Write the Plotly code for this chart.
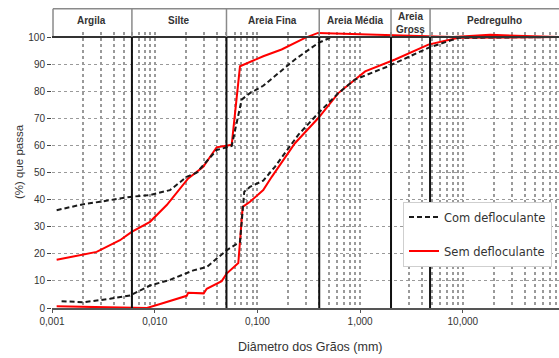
import numpy as np
import plotly.graph_objects as go

# ---------------- data ----------------
# Upper pair of curves
com_a_d = [0.00111, 0.00202, 0.00293, 0.00575, 0.0090, 0.0141, 0.0205, 0.0256, 0.0401, 0.0562,
           0.0703, 0.0847, 0.114, 0.148, 0.232, 0.392, 0.529, 1.0, 10.0, 86.0]
com_a_p = [36.1, 38.3, 39.2, 41.0, 41.7, 43.5, 48.4, 49.9, 58.3, 59.8,
           76.9, 79.3, 82.0, 85.5, 91.7, 97.8, 100.0, 100.0, 100.0, 100.0]

sem_a_d = [0.00111, 0.00272, 0.00459, 0.00597, 0.0090, 0.0131, 0.0212, 0.0297, 0.0401, 0.0562,
           0.0677, 0.114, 0.172, 0.291, 0.39, 2.0, 8.0, 18.4, 86.0]
sem_a_p = [17.8, 20.7, 25.0, 28.1, 31.8, 38.0, 47.8, 52.1, 59.3, 60.2,
           89.2, 92.9, 95.4, 99.7, 101.5, 100.7, 100.0, 100.8, 100.0]

# Lower pair of curves
com_b_d = [0.00124, 0.00202, 0.00367, 0.00575, 0.0090, 0.0141, 0.0238, 0.0321, 0.0502, 0.0677,
           0.0745, 0.0847, 0.114, 0.148, 0.250, 0.392, 0.614, 0.891, 1.88, 4.62, 9.04, 86.0]
com_b_p = [2.5, 2.1, 3.4, 4.6, 8.3, 10.4, 13.9, 15.1, 21.3, 24.4,
           42.9, 44.7, 47.0, 52.1, 63.9, 71.9, 79.3, 84.3, 89.2, 96.0, 99.7, 100.0]

sem_b_d = [0.00111, 0.002, 0.0058, 0.0084, 0.0113, 0.0164, 0.0205, 0.0212, 0.030, 0.0321,
           0.0449, 0.0502, 0.0652, 0.0719, 0.0847, 0.114, 0.138, 0.232, 0.392, 0.614,
           1.12, 2.19, 4.62, 9.04, 86.0]
sem_b_p = [0.6, 0.5, 0.1, 0.0, 1.5, 3.4, 4.5, 5.6, 5.4, 7.1,
           9.9, 12.7, 16.6, 37.3, 39.2, 43.5, 48.4, 60.8, 70.1, 79.3,
           87.3, 91.7, 97.2, 99.7, 100.0]

# Soil classes (boundaries in mm) and header labels
class_bounds = [0.006, 0.05, 0.4, 2.0, 4.8]
class_names = ["Argila", "Silte", "Areia Fina", "Areia Média", "Areia<br>Gross", "Pedregulho"]

x_min, x_max = 0.001, 86.5
y_tickvals = list(range(0, 101, 10))
x_tickvals = [0.001, 0.01, 0.1, 1, 10]
x_ticktext = ["0,001", "0,010", "0,100", "1,000", "10,000"]

# ---------------- figure ----------------
W, H = 559, 358
ML, MR, MT, MB = 52, 0, 8, 50
YTOP = 110.7          # axis top (header band lives above 100)
HDR_TOP = 110.4

fig = go.Figure()

red = dict(color="#ff0000", width=2)
blk = dict(color="#1a1a1a", width=2, dash="5px,3px")

fig.add_trace(go.Scatter(x=sem_a_d, y=sem_a_p, mode="lines", line=red,
                         name="Sem defloculante", legendgroup="sem", legendrank=2))
fig.add_trace(go.Scatter(x=sem_b_d, y=sem_b_p, mode="lines", line=red,
                         name="Sem defloculante", legendgroup="sem", showlegend=False))
fig.add_trace(go.Scatter(x=com_a_d, y=com_a_p, mode="lines", line=blk,
                         name="Com defloculante", legendgroup="com", legendrank=1))
fig.add_trace(go.Scatter(x=com_b_d, y=com_b_p, mode="lines", line=blk,
                         name="Com defloculante", legendgroup="com", showlegend=False))

shapes = []
# white header band (hides the grid above the curves' overshoot)
shapes.append(dict(type="rect", xref="paper", yref="y", x0=0, x1=1, y0=102.0, y1=YTOP,
                   fillcolor="white", line=dict(width=0), layer="above"))
# header top and left border
shapes.append(dict(type="line", xref="paper", yref="y", x0=0.002, x1=1, y0=HDR_TOP, y1=HDR_TOP,
                   line=dict(color="#8a8a8a", width=1.5)))
shapes.append(dict(type="line", xref="paper", yref="y", x0=0.002, x1=0.002, y0=100, y1=HDR_TOP,
                   line=dict(color="#8a8a8a", width=1.5)))
# 100% line / header bottom
shapes.append(dict(type="line", xref="paper", yref="y", x0=0, x1=1, y0=100, y1=100,
                   line=dict(color="#333333", width=2)))
for b in class_bounds:
    shapes.append(dict(type="line", xref="x", yref="y", x0=b, x1=b, y0=0, y1=100,
                       line=dict(color="#111111", width=2)))
    shapes.append(dict(type="line", xref="x", yref="y", x0=b, x1=b, y0=100, y1=HDR_TOP,
                       line=dict(color="#8a8a8a", width=1.5)))

annotations = []
edges = [x_min] + class_bounds + [x_max]
for i, name in enumerate(class_names):
    xc = (np.log10(edges[i]) + np.log10(edges[i + 1])) / 2
    two = "<br>" in name
    annotations.append(dict(x=xc, y=105.3 if two else 106.0, xref="x", yref="y",
                            text=f"<b>{name}</b>", showarrow=False, xanchor="center",
                            yanchor="middle",
                            font=dict(family="Liberation Sans, Arial", size=10, color="#333")))

pw = W - ML - MR
ph = H - MT - MB
annotations.append(dict(text="(%) que passa", textangle=-90, showarrow=False,
                        xref="paper", yref="paper", x=(19 - ML) / pw, y=(H - MB - 162) / ph,
                        xanchor="center", yanchor="middle",
                        font=dict(family="Liberation Sans, Arial", size=11.5, color="#333")))
annotations.append(dict(text="Diâmetro dos Grãos (mm)", showarrow=False,
                        xref="paper", yref="paper", x=(309.5 - ML) / pw, y=(H - MB - 347) / ph,
                        xanchor="center", yanchor="middle",
                        font=dict(family="Liberation Sans, Arial", size=12.5, color="#333")))

fig.update_layout(
    width=W, height=H,
    margin=dict(l=ML, r=MR, t=MT, b=MB),
    paper_bgcolor="white", plot_bgcolor="white",
    font=dict(family="Liberation Sans, Arial", size=10, color="#333"),
    shapes=shapes, annotations=annotations,
    legend=dict(x=(403 - ML) / pw, y=(H - MB - 201.5) / ph, xanchor="left", yanchor="top",
                bgcolor="white", bordercolor="#cfcfcf", borderwidth=1,
                font=dict(family="DejaVu Sans", size=11.5, color="#333"),
                tracegroupgap=15, traceorder="grouped"),
    xaxis=dict(type="log", range=[np.log10(x_min), np.log10(x_min) + pw / 102.7],
               tickvals=x_tickvals, ticktext=x_ticktext, ticks="outside", ticklen=3,
               tickcolor="#555", showgrid=False, zeroline=False,
               showline=True, linecolor="#555", linewidth=2,
               tickfont=dict(size=10, color="#333"),
               minor=dict(dtick="D1", showgrid=True, gridcolor="#9a9a9a",
                          griddash="dot", gridwidth=1.5, ticks="")),
    yaxis=dict(range=[0, YTOP], tickvals=y_tickvals, ticks="outside", ticklen=4,
               tickcolor="#444", showgrid=True, gridcolor="#9a9a9a", griddash="dot",
               gridwidth=1.2, zeroline=False, showline=False,
               tickfont=dict(size=10, color="#333")),
)

fig.write_html("out.html",
               config={"displayModeBar": False},
               post_script="document.body.style.margin='0px';"
                           "document.body.style.overflow='hidden';")
